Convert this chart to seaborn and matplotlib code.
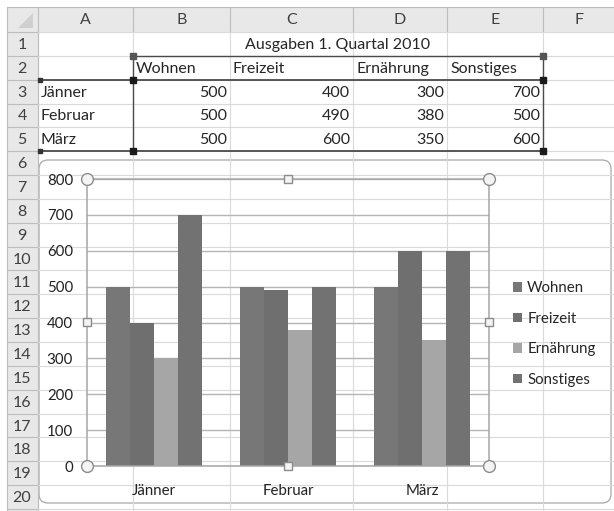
import pandas as pd
import matplotlib
matplotlib.use('Agg')
import matplotlib.pyplot as plt
from matplotlib.patches import Rectangle, FancyBboxPatch, Polygon
import seaborn as sns

# daten aus der tabelle
monate = ['Jänner', 'Februar', 'März']
kategorien = ['Wohnen', 'Freizeit', 'Ernährung', 'Sonstiges']
wohnen = [500, 500, 500]
freizeit = [400, 490, 600]
ernaehrung = [300, 380, 350]
sonstiges = [700, 500, 600]
titel = 'Ausgaben 1. Quartal 2010'
spalten = ['A', 'B', 'C', 'D', 'E', 'F']
farben = ['#777777', '#6f6f6f', '#a6a6a6', '#727272']

werte = [wohnen, freizeit, ernaehrung, sonstiges]
df = pd.DataFrame({
    'Monat': monate * len(kategorien),
    'Kategorie': [k for k in kategorien for _ in monate],
    'Betrag': sum(werte, []),
})

sns.set_style('white')
plt.rcParams['font.family'] = ['Lato', 'DejaVu Sans']

W, H = 614, 511
fs_tab = 11.5
fs_chart = 10.8

fig = plt.figure(figsize=(W / 100, H / 100), dpi=100)

# --- tabellenblatt im hintergrund (pixelkoordinaten) ---
bg = fig.add_axes([0, 0, 1, 1])
bg.set_xlim(0, W)
bg.set_ylim(H, 0)
bg.axis('off')

col_x = [7, 38, 133, 230, 353, 447, 543, W]
head_top, head_bot = 7, 32
row_h = 23.85
row_y = [head_bot + row_h * i for i in range(21)]

bg.add_patch(Rectangle((7, head_top), W - 7, head_bot - head_top, fc='#e8e8e8', ec='none'))
bg.add_patch(Rectangle((7, head_bot), col_x[1] - 7, H - head_bot, fc='#e8e8e8', ec='none'))
bg.add_patch(Polygon([(33, 13), (33, 28), (18, 28)], fc='#cfcfcf', ec='none'))

for x in col_x[1:-1]:
    bg.plot([x, x], [head_top, head_bot], color='#bdbdbd', lw=0.8)
    bg.plot([x, x], [head_bot, H], color='#dadada', lw=0.8)
bg.plot([col_x[1], col_x[1]], [head_bot, H], color='#bdbdbd', lw=0.8)
for y in row_y:
    bg.plot([7, col_x[1]], [y, y], color='#bdbdbd', lw=0.8)
    bg.plot([col_x[1], W], [y, y], color='#dadada', lw=0.8)
bg.plot([7, W], [head_top, head_top], color='#bdbdbd', lw=0.8)
bg.plot([7, 7], [head_top, H], color='#bdbdbd', lw=0.8)

for i, s in enumerate(spalten):
    bg.text((col_x[i + 1] + col_x[i + 2]) / 2, (head_top + head_bot) / 2 + 1, s,
            ha='center', va='center', fontsize=fs_tab, color='#404040')
for i in range(20):
    bg.text(22, (row_y[i] + row_y[i + 1]) / 2 + 1, str(i + 1),
            ha='center', va='center', fontsize=fs_tab, color='#404040')

def mitte(r):
    return (row_y[r - 1] + row_y[r]) / 2 + 1

bg.text((col_x[2] + col_x[6]) / 2, mitte(1), titel, ha='center', va='center', fontsize=fs_tab)
for j, k in enumerate(kategorien):
    bg.text(col_x[j + 2] + 3, mitte(2), k, ha='left', va='center', fontsize=fs_tab)
for i, m in enumerate(monate):
    bg.text(col_x[1] + 3, mitte(3 + i), m, ha='left', va='center', fontsize=fs_tab)
    for j, w in enumerate(werte):
        bg.text(col_x[j + 3] - 3, mitte(3 + i), str(w[i]), ha='right', va='center', fontsize=fs_tab)

# markierung der datenbereiche
sel = '#4a4a4a'
bg.plot([col_x[2], col_x[6]], [row_y[1], row_y[1]], color=sel, lw=1)
bg.plot([col_x[6], col_x[6]], [row_y[1], row_y[5]], color=sel, lw=1)
bg.plot([col_x[2], col_x[2]], [row_y[1], row_y[5]], color=sel, lw=1)
bg.plot([col_x[1] + 2, col_x[6]], [row_y[2], row_y[2]], color=sel, lw=1.3)
bg.plot([col_x[1] + 2, col_x[6]], [row_y[5], row_y[5]], color=sel, lw=1.3)
bg.plot([col_x[2], col_x[6]], [row_y[1], row_y[1]], 's', ms=4, color='#555555')
bg.plot([col_x[1] + 2, col_x[1] + 2], [row_y[2], row_y[5]], 's', ms=3.5, color='#333333')
bg.plot([col_x[2], col_x[6], col_x[2], col_x[6]], [row_y[2], row_y[2], row_y[5], row_y[5]],
        's', ms=5, color='#1a1a1a')

# diagrammbereich
bg.add_patch(FancyBboxPatch((39, 160), 572, 343, boxstyle='round,pad=0,rounding_size=9',
                            fc='white', ec='#a8a8a8', lw=0.9))

# --- balkendiagramm ---
L, R, T, B = 87, 489, 179, 466
ax = fig.add_axes([L / W, (H - B) / H, (R - L) / W, (B - T) / H])
sns.barplot(data=df, x='Monat', y='Betrag', hue='Kategorie', palette=farben,
            width=0.72, saturation=1, linewidth=0, ax=ax)
ax.set_axisbelow(True)
ax.set_xlim(-0.5, 2.5)
ax.set_ylim(0, 800)
ax.set_yticks(range(0, 900, 100))
ax.yaxis.grid(True, color='#b5b5b5', lw=1)
ax.set_xlabel('')
ax.set_ylabel('')
ax.set_facecolor('none')
for sp in ax.spines.values():
    sp.set_color('#a6a6a6')
    sp.set_linewidth(1.1)
ax.tick_params(axis='y', length=0, pad=10, labelsize=fs_chart, labelcolor='#222222')
ax.tick_params(axis='x', which='major', length=0, pad=13, labelsize=fs_chart, labelcolor='#222222')
ax.set_xticks([-0.5, 0.5, 1.5, 2.5], minor=True)
ax.tick_params(axis='x', which='minor', length=3.5, color='#a6a6a6', direction='out')

sns.move_legend(ax, 'center left', bbox_to_anchor=((513 - L) / (R - L), (B - 334) / (B - T)),
                frameon=False, title=None, handlelength=0.6, handleheight=0.6,
                handletextpad=0.35, labelspacing=1.1, fontsize=fs_chart,
                borderaxespad=0, borderpad=0)

# griffpunkte der ausgewählten zeichnungsfläche
ov = fig.add_axes([0, 0, 1, 1], zorder=10)
ov.set_xlim(0, W)
ov.set_ylim(H, 0)
ov.axis('off')
mx, my = (L + R) / 2, (T + B) / 2
ov.plot([L, R, L, R], [T, T, B, B], 'o', ms=8.5, mfc='#f4f4f4', mec='#8c8c8c', mew=1)
ov.plot([mx, L, R, mx], [T, my, my, B], 's', ms=6, mfc='#f4f4f4', mec='#8c8c8c', mew=1)

fig.savefig('out.png', dpi=100)
